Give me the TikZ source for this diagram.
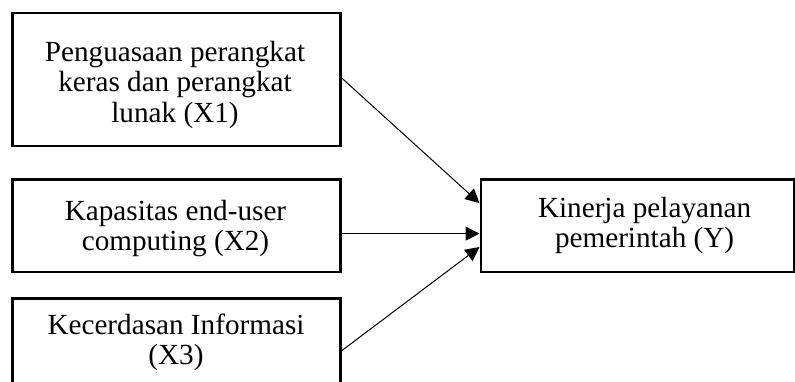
\documentclass[tikz,border=0pt]{standalone}
\usepackage{fontspec}
\setmainfont{Liberation Serif}
\usetikzlibrary{arrows.meta}
\begin{document}
\begin{tikzpicture}[x=1pt,y=1pt,
  box/.style={draw=black,line width=2.4pt,rectangle,inner sep=0pt},
  txt/.style={inner sep=0pt,align=center,font=\fontsize{29.2}{30.3}\selectfont},
  arr/.style={line width=1pt,-{Triangle[length=14pt,width=14pt]}}]
\useasboundingbox (0,0) rectangle (795,381);
% boxes
\node[box,minimum width=328pt,minimum height=133pt] (b1) at (176.5,301.5) {};
\node[box,minimum width=328pt,minimum height=92.2pt] (b2) at (176.5,155.4) {};
\node[box,minimum width=328pt,minimum height=101.7pt] (b3) at (176.5,31.85) {};
\node[box,minimum width=313.6pt,minimum height=92.2pt] (by) at (637.5,155.4) {};
% texts
\node[txt] (t1) at (175,296.15) {Penguasaan perangkat\\keras dan perangkat\\lunak (X1)};
\node[txt] (t2) at (175.5,152.7) {Kapasitas end-user\\computing (X2)};
\node[txt] (t3) at (176,38.4) {Kecerdasan Informasi\\(X3)};
\node[txt] (ty) at (644.6,155.6) {Kinerja pelayanan\\pemerintah (Y)};
% arrows
\draw[arr] ([yshift=1.5pt]b1.east) -- ([yshift=22.5pt]by.west);
\draw[arr] ([yshift=-8pt]b2.east) -- ([yshift=-8pt]by.west);
\draw[arr] ([yshift=-1.55pt]b3.east) -- ([yshift=-21.45pt]by.west);
\end{tikzpicture}
\end{document}
